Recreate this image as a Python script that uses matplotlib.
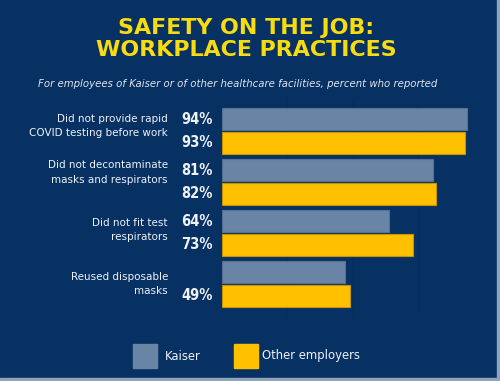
import matplotlib.pyplot as plt
import numpy as np
from matplotlib.patches import Rectangle

# =====================================================
# DATA
# =====================================================

categories = [
    "Did not provide rapid\nCOVID testing before work",
    "Did not decontaminate\nmasks and respirators",
    "Did not fit test\nrespirators",
    "Reused disposable\nmasks",
]
kaiser = [94, 81, 64, 47]
other = [93, 82, 73, 49]
kaiser_labels = ["94%", "81%", "64%", ""]
other_labels = ["93%", "82%", "73%", "49%"]

series_names = ["Kaiser", "Other employers"]

# =====================================================
# STYLE
# =====================================================

BG = "#083163"
KAISER_COLOR = "#6984a4"
OTHER_COLOR = "#ffc000"
TITLE_COLOR = "#f8dc0e"
TEXT_COLOR = "#eef1f5"

fig = plt.figure(figsize=(5.0, 3.81), dpi=100)
fig.patch.set_facecolor(BG)

# axes covers the bar region (pixel layout)
ax = fig.add_axes([222 / 500, 66 / 381, 261 / 500, 215 / 381])
ax.set_facecolor(BG)

y = np.arange(len(categories))
bar_h = 0.43
off = 0.232

ax.barh(y - off, kaiser, height=bar_h, color=KAISER_COLOR,
        edgecolor="#57708f", linewidth=0.8, zorder=3)
ax.barh(y + off, other, height=bar_h, color=OTHER_COLOR,
        edgecolor="#c99400", linewidth=0.8, zorder=3)

ax.set_xlim(0, 100)
ax.set_ylim(3.61, -0.61)

# faint vertical gridlines
for gx in [25, 50, 75]:
    ax.axvline(gx, color="#072d5d", lw=0.8, zorder=1)

for s in ax.spines.values():
    s.set_visible(False)
ax.set_xticks([])
ax.set_yticks([])

# value labels
val_font = dict(family="DejaVu Sans", fontstretch="condensed",
                fontweight="bold", fontsize=10.5, color=TEXT_COLOR)
for i in range(len(categories)):
    if kaiser_labels[i]:
        ax.text(-3.5, y[i] - off, kaiser_labels[i], ha="right", va="center",
                clip_on=False, **val_font)
    ax.text(-3.5, y[i] + off, other_labels[i], ha="right", va="center",
            clip_on=False, **val_font)

# category labels
label_dy = [-0.1, -0.19, -0.06, 0.0]
for i, cat in enumerate(categories):
    ax.text(-20.7, y[i] + label_dy[i], cat, ha="right", va="center",
            fontsize=7.5, color=TEXT_COLOR, linespacing=1.55, clip_on=False)

# title and subtitle
fig.text(0.492, 1 - 39 / 381, "SAFETY ON THE JOB:\nWORKPLACE PRACTICES",
         ha="center", va="center", fontsize=15.9, fontweight="bold",
         color=TITLE_COLOR, linespacing=1.08)
fig.text(0.476, 1 - 84 / 381,
         "For employees of Kaiser or of other healthcare facilities, percent who reported",
         ha="center", va="center", fontsize=7.3, style="italic",
         color="#dfe4ec")

# legend
leg_y = 1 - 356 / 381
sq_w = 24 / 500
sq_h = 24 / 381
fig.patches.append(Rectangle((133 / 500, leg_y - sq_h / 2), sq_w, sq_h,
                             transform=fig.transFigure, color=KAISER_COLOR))
fig.text(165 / 500, leg_y, series_names[0], ha="left", va="center",
         fontsize=8.4, color=TEXT_COLOR)
fig.patches.append(Rectangle((234 / 500, leg_y - sq_h / 2), sq_w, sq_h,
                             transform=fig.transFigure, color=OTHER_COLOR))
fig.text(262 / 500, leg_y, series_names[1], ha="left", va="center",
         fontsize=8.4, color=TEXT_COLOR)

# light border on bottom and right edge
fig.patches.append(Rectangle((0, 0), 1, 3 / 381, transform=fig.transFigure,
                             color="#8ea3bd"))
fig.patches.append(Rectangle((1 - 3 / 500, 0), 3 / 500, 1,
                             transform=fig.transFigure, color="#8ea3bd"))

fig.savefig("out.png", dpi=100, facecolor=BG)
